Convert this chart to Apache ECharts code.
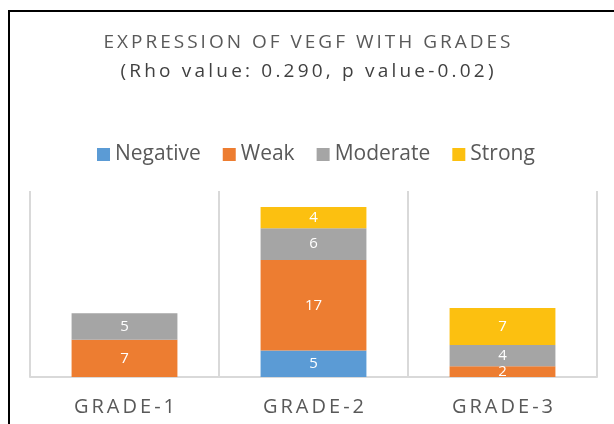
<!DOCTYPE html>
<html><head><meta charset="utf-8">
<script src="https://cdn.jsdelivr.net/npm/echarts@6/dist/echarts.min.js"></script>
<style>html,body{margin:0;padding:0;background:#fff}#c{width:614px;height:424px}</style>
</head><body><div id="c"></div>
<script>
const categories = ['GRADE-1', 'GRADE-2', 'GRADE-3'];
const negative = [0, 5, 0];
const weak = [7, 17, 2];
const moderate = [5, 6, 4];
const strong = [0, 4, 7];
const seriesNames = ['Negative', 'Weak', 'Moderate', 'Strong'];
const colors = ['#5b9bd5', '#ed7d31', '#a5a5a5', '#fcc010'];
const values = [negative, weak, moderate, strong];
const titleText = 'EXPRESSION OF VEGF WITH GRADES';
const subText = '(Rho value: 0.290, p value-0.02)';
const font = '"Open Sans", sans-serif';

// letter spacing for title, subtitle and category labels (canvas drawing)
const spaced = {};
spaced[titleText] = 3; spaced[subText] = 3.2;
categories.forEach(c => spaced[c] = 3);
const origFill = CanvasRenderingContext2D.prototype.fillText;
CanvasRenderingContext2D.prototype.fillText = function (t, x, y, mw) {
  const sp = spaced[t];
  if (sp && 'letterSpacing' in this) {
    const f = this.font;
    const w0 = this.measureText(t).width;
    this.save();
    this.letterSpacing = sp + 'px';
    this.font = f;
    const w1 = this.measureText(t).width;
    const a = this.textAlign;
    let dx = 0;
    if (a === 'left' || a === 'start') dx = -(w1 - w0) / 2;
    else if (a === 'right' || a === 'end') dx = (w1 - w0) / 2;
    else dx = sp / 2;
    origFill.call(this, t, x + dx, y);
    this.restore();
    this.letterSpacing = '0px';
    this.font = f;
    return;
  }
  return mw === undefined ? origFill.call(this, t, x, y) : origFill.call(this, t, x, y, mw);
};

const chart = echarts.init(document.getElementById('c'));
chart.setOption({
  animation: false,
  title: {
    text: titleText,
    subtext: subText,
    left: 'center', top: 28, itemGap: 10,
    textStyle: { fontFamily: font, fontSize: 19, fontWeight: 'normal', color: '#595959' },
    subtextStyle: { fontFamily: font, fontSize: 19, color: '#404040' }
  },
  legend: {
    data: seriesNames, top: 139, left: 92, itemWidth: 13, itemHeight: 13, itemGap: 22,
    icon: 'rect',
    textStyle: { fontFamily: font, fontSize: 21, color: '#595959' }
  },
  grid: { left: 30, right: 17, top: 191, bottom: 47, containLabel: false },
  xAxis: {
    type: 'category', data: categories,
    axisLine: { lineStyle: { color: '#d9d9d9', width: 2 } },
    axisTick: { show: false },
    splitLine: { show: true, lineStyle: { color: '#d9d9d9', width: 2 } },
    axisLabel: { fontFamily: font, fontSize: 20, color: '#595959', margin: 20 }
  },
  yAxis: { type: 'value', min: 0, max: 35, show: false, splitLine: { show: false } },
  series: values.map((v, i) => ({
    name: seriesNames[i], type: 'bar', stack: 'total', data: v, barWidth: '56%',
    itemStyle: { color: colors[i] },
    label: { show: true, position: 'inside', color: '#fff', fontFamily: font, fontSize: 15,
      formatter: p => p.value ? p.value : '' }
  })),
  graphic: [{ type: 'rect', shape: { x: 9, y: 11, width: 700, height: 500 },
    style: { fill: 'none', stroke: '#000', lineWidth: 2 }, silent: true }]
});
</script></body></html>
